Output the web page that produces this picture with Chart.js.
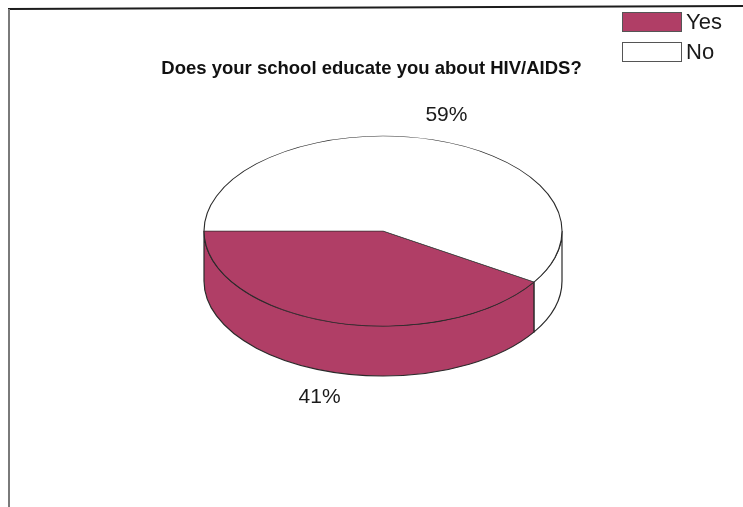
<!DOCTYPE html>
<html>
<head>
<meta charset="utf-8">
<script src="https://cdn.jsdelivr.net/npm/chart.js@4.4.0/dist/chart.umd.min.js"></script>
<style>
  html, body { margin: 0; padding: 0; background: #fff; }
  #wrap { position: relative; width: 743px; height: 507px; }
</style>
</head>
<body>
<div id="wrap"><canvas id="myChart"></canvas></div>
<script>
// dados da pergunta
const categorias = ['Yes', 'No'];
const percentuais = [41, 59];
const cores = ['#b03e66', '#ffffff'];
const titulo = 'Does your school educate you about HIV/AIDS?';

// geometria da pizza "3d" (elipse do topo + altura da lateral)
const CX = 383, CY = 231, RX = 179, RY = 95, ALTURA = 50;
const LINHA = '#2a2a2a';

// trechos do arco que ficam na frente (0..PI)
function trechosFrente(s, e) {
    const out = [];
    for (let k = -1; k <= 2; k++) {
        const a = Math.max(s, 2 * Math.PI * k);
        const b = Math.min(e, 2 * Math.PI * k + Math.PI);
        if (b > a) out.push([a - 2 * Math.PI * k, b - 2 * Math.PI * k]);
    }
    return out;
}

const pizza3d = {
    id: 'pizza3d',
    beforeDraw(chart) {
        const c = chart.ctx;
        c.save();
        c.fillStyle = '#fff';
        c.fillRect(0, 0, chart.width, chart.height);
        // moldura (so topo e esquerda)
        c.lineWidth = 2;
        c.strokeStyle = '#1c1c1c';
        c.beginPath(); c.moveTo(8, 9); c.lineTo(743, 6); c.stroke();
        c.strokeStyle = '#7a7a7a';
        c.beginPath(); c.moveTo(9, 9); c.lineTo(9, 507); c.stroke();
        c.restore();
    },
    beforeDatasetsDraw(chart) {
        const c = chart.ctx;
        const arcs = chart.getDatasetMeta(0).data;
        // lateral
        c.save();
        c.lineWidth = 1.2;
        c.strokeStyle = LINHA;
        arcs.forEach((arc, i) => {
            trechosFrente(arc.startAngle, arc.endAngle).forEach(([a, b]) => {
                c.beginPath();
                c.ellipse(CX, CY, RX, RY, 0, a, b, false);
                c.ellipse(CX, CY + ALTURA, RX, RY, 0, b, a, true);
                c.closePath();
                c.fillStyle = cores[i];
                c.fill();
                c.stroke();
            });
        });
        c.restore();
        // topo: achata o desenho do proprio Chart.js
        const a0 = arcs[0];
        const R = a0.outerRadius;
        c.save();
        c.translate(CX, CY);
        c.scale(RX / R, RY / R);
        c.translate(-a0.x, -a0.y);
    },
    afterDatasetsDraw(chart) {
        const c = chart.ctx;
        c.restore();
        // rotulos de porcentagem
        const arcs = chart.getDatasetMeta(0).data;
        c.save();
        c.font = '21px "Liberation Sans", Arial, sans-serif';
        c.fillStyle = '#1a1a1a';
        c.textAlign = 'center';
        c.textBaseline = 'middle';
        arcs.forEach((arc, i) => {
            const m = (arc.startAngle + arc.endAngle) / 2;
            const sn = Math.sin(m);
            const x = CX + RX * 1.27 * Math.cos(m);
            const y = CY + RY * 1.27 * sn + (sn > 0 ? ALTURA : 0);
            c.fillText(percentuais[i] + '%', x, y);
        });
        c.restore();
    },
    afterDraw(chart) {
        // legenda
        const c = chart.ctx;
        c.save();
        c.font = '22px "Liberation Sans", Arial, sans-serif';
        c.textBaseline = 'middle';
        categorias.forEach((nome, i) => {
            const y = 12 + i * 30;
            c.fillStyle = cores[i];
            c.fillRect(622, y, 60, 20);
            c.strokeStyle = '#555';
            c.lineWidth = 1;
            c.strokeRect(622.5, y + 0.5, 59, 19);
            c.fillStyle = '#1a1a1a';
            c.fillText(nome, 686, y + 11);
        });
        c.restore();
    }
};

const ctx = document.getElementById('myChart');
ctx.width = 743;
ctx.height = 507;
const myChart = new Chart(ctx, {
    type: 'pie',
    data: {
        labels: categorias,
        datasets: [{
            data: percentuais,
            backgroundColor: cores,
            borderColor: LINHA,
            borderWidth: 1.3,
            hoverOffset: 0
        }]
    },
    options: {
        responsive: false,
        animation: false,
        events: [],
        rotation: 122.4, // fatia "Yes" comeca em ~32 graus e vai ate a esquerda
        layout: { padding: 0 },
        plugins: {
            legend: { display: false },
            tooltip: { enabled: false },
            title: {
                display: true,
                text: titulo,
                color: '#111',
                font: { family: '"Liberation Sans", Arial, sans-serif', size: 18.5, weight: 'bold' },
                padding: { top: 58, bottom: 10 }
            }
        }
    },
    plugins: [pizza3d]
});
</script>
</body>
</html>
